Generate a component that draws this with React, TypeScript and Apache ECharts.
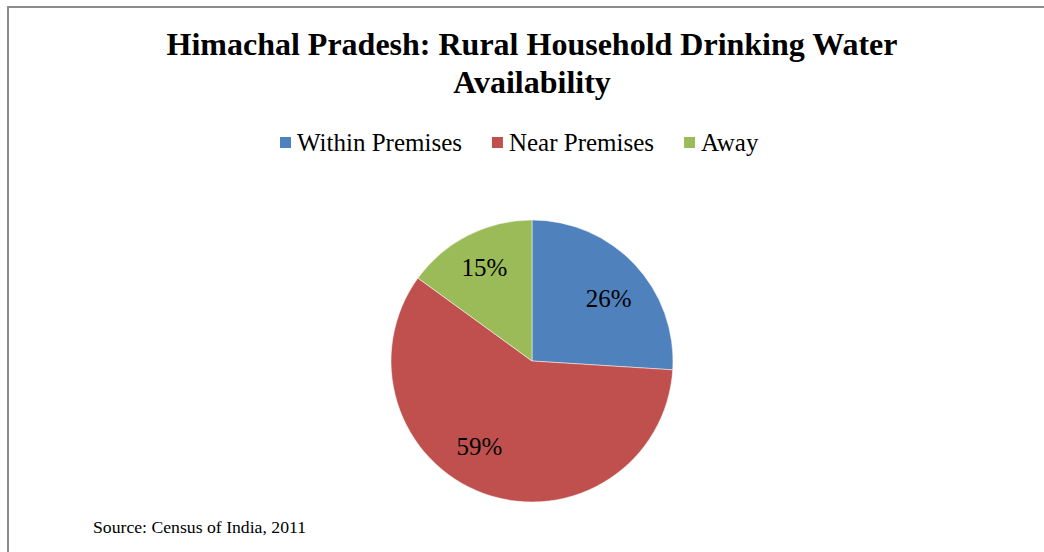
import React, { useEffect, useRef } from "react";
import * as echarts from "echarts";

const categories = ["Within Premises", "Near Premises", "Away"];
const values = [26, 59, 15];
const colors = ["#4F81BD", "#C0504D", "#9BBB59"];
const titleText = "Himachal Pradesh: Rural Household Drinking Water\nAvailability";
const sourceText = "Source: Census of India, 2011";
// per-slice label nudges (pixels), mimicking the original's label placement
const labelDx = [0, -17, 0];
const labelDy = [9, -13, 0];

const FONT = "Liberation Serif, Times New Roman, serif";

export default function App() {
  const ref = useRef<HTMLDivElement>(null);
  useEffect(() => {
    if (!ref.current) return;
    const chart = echarts.init(ref.current, undefined, { renderer: "svg" });
    const data = categories.map((name, i) => ({
      name,
      value: values[i],
      itemStyle: { color: colors[i] },
    }));
    chart.setOption({
      animation: false,
      backgroundColor: "#ffffff",
      title: [
        {
          text: titleText,
          left: 532,
          top: 25,
          padding: 0,
          textAlign: "center",
          textStyle: {
            fontFamily: FONT,
            fontWeight: "bold",
            fontSize: 32,
            lineHeight: 38,
            color: "#000",
          },
        },
        {
          text: sourceText,
          left: 93,
          top: 518,
          padding: 0,
          textStyle: {
            fontFamily: FONT,
            fontWeight: "normal",
            fontSize: 17.7,
            color: "#000",
          },
        },
      ],
      legend: {
        data: categories,
        left: 278,
        top: 130,
        padding: 0,
        itemWidth: 13,
        itemHeight: 13,
        itemGap: 28,
        icon: "rect",
        textStyle: { fontFamily: FONT, fontSize: 25, color: "#000", padding: [0, 0, 0, 0] },
      },
      graphic: [
        {
          type: "rect",
          shape: { x: 8, y: 7, width: 1100, height: 600 },
          style: { fill: "none", stroke: "#8c8c8c", lineWidth: 2 },
          silent: true,
        },
      ],
      series: [
        {
          type: "pie",
          center: [532, 361],
          radius: [0, 141],
          startAngle: 90,
          clockwise: true,
          data,
          label: { show: false },
          labelLine: { show: false },
          itemStyle: { borderColor: "#ffffff", borderWidth: 0.5 },
          emphasis: { disabled: true },
        },
        {
          type: "pie",
          center: [532, 361],
          radius: [0, 204],
          startAngle: 90,
          clockwise: true,
          silent: true,
          data: categories.map((name, i) => ({
            name,
            value: values[i],
            itemStyle: { color: "rgba(0,0,0,0)" },
          })),
          label: {
            show: true,
            position: "inside",
            formatter: (p: any) => `${p.value}%`,
            fontFamily: FONT,
            fontSize: 25,
            color: "#000",
          },
          labelLayout: (p: any) => ({ dx: labelDx[p.dataIndex], dy: labelDy[p.dataIndex] }),
          labelLine: { show: false },
          emphasis: { disabled: true },
        },
      ],
    });
    return () => chart.dispose();
  }, []);
  return (
    <div
      ref={ref}
      style={{ position: "fixed", left: 0, top: 0, width: 1044, height: 552 }}
    />
  );
}
